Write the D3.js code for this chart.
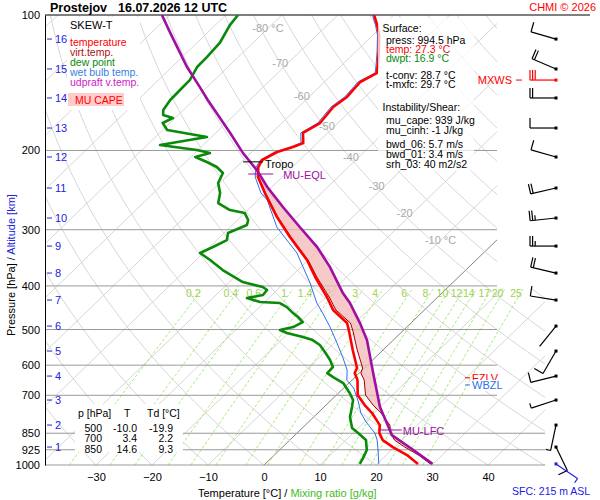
<!DOCTYPE html>
<html><head><meta charset="utf-8">
<script src="https://cdn.jsdelivr.net/npm/d3@7"></script>
<style>body{margin:0;background:#fff} text{font-family:"Liberation Sans",Arial,sans-serif}</style>
</head><body>
<svg id="c" width="600" height="500"></svg>
<script>
// ---------- data ----------
const stationName = "Prostejov";
const dateLabel = "16.07.2026 12 UTC";
const pressureTicks = [100,200,300,400,500,600,700,850,925,1000];
const upperPressLines = [200,300,400,500,600,700];
const lowerPressLines = [850,925,1000];
const tempTicks = [-30,-20,-10,0,10,20,30,40];
const altKm = [1,2,3,4,5,6,7,8,9,10,11,12,13,14,15,16];
const altPress = [912.3,815.2,717.2,634.4,558.2,491.2,430,374.5,326.2,282.6,242.4,206.8,178.3,152.9,131.8,113.1];
const isoLabelT = [-80,-70,-60,-50,-40,-30,-20,-10];
const isoLabelP = [106.9,127.8,151.4,176.5,206.8,239.9,275.5,316.3];
const mixRatios = [0.2,0.4,0.6,1,1.4,2,3,4,6,8,10,12,14,17,20,25];

// [pressure hPa, value °C]
const temperature = [[100,-63.5],[105.3,-61.1],[110.8,-58.9],[119.6,-56.2],[129.2,-53.6],[134.6,-52.3],[140.9,-53.6],[152.1,-53.2],[160.1,-53.8],[173.8,-53.2],[182.9,-54.4],[192.5,-52.5],[196.5,-53.6],[201.6,-55.5],[210,-56.7],[217.7,-56.1],[229.1,-54.3],[248.7,-50.1],[281.2,-43.5],[311.5,-37.5],[350.4,-30.2],[382.2,-25.6],[423.4,-19.8],[452.5,-16.3],[483.7,-11.4],[501.3,-9.8],[555.3,-5.4],[608.9,-1.3],[624.7,-0.8],[647.6,1.0],[699.1,3.8],[735.9,6.9],[766.6,9.7],[815.3,13.3],[849.3,14.7],[880.3,16.6],[912.3,19.7],[950.6,23.7],[994.5,27.3]];
const virtualTemp = [[100,-63.5],[105.3,-61.1],[110.8,-58.9],[119.6,-56.2],[129.2,-53.6],[134.6,-52.3],[140.9,-53.6],[152.1,-53.2],[160.1,-53.8],[173.8,-53.2],[182.9,-54.4],[192.5,-52.5],[196.5,-53.6],[201.6,-55.5],[210,-56.7],[217.7,-56.1],[229.1,-54.2],[248.7,-50.0],[281.2,-43.4],[311.5,-37.3],[350.4,-30.0],[382.2,-25.3],[423.4,-19.4],[452.5,-15.8],[483.7,-10.8],[501.3,-9.1],[555.3,-4.6],[608.9,-0.3],[624.7,0.3],[647.6,2.2],[699.1,5.2],[735.9,8.4],[766.6,11.3],[815.3,15.1],[849.3,16.7],[880.3,18.7],[912.3,21.8],[950.6,25.8],[994.5,29.5]];
const dewPoint = [[100,-87.8],[105.3,-87.4],[115.4,-85.9],[124.0,-85.6],[130.5,-85.5],[139.5,-84.4],[146.8,-84.3],[154.5,-84.2],[162.6,-83.6],[166.8,-82.7],[169.4,-80.4],[173.8,-81.3],[180.1,-79.2],[186.7,-70.8],[194.5,-77.7],[199.6,-70.2],[202.7,-67.3],[206.8,-69.2],[212.2,-66.2],[217.7,-63.5],[224.5,-61.3],[236.3,-60.3],[248.7,-58.1],[261.7,-56.6],[271.3,-53.2],[275.5,-50.0],[285.5,-48.1],[292.9,-47.4],[305.2,-49.3],[316.3,-48.2],[327.8,-49.4],[338.0,-50.6],[350.4,-47.5],[368.8,-43.4],[392.1,-37.6],[402.3,-33.1],[408.5,-31.8],[419.1,-31.6],[425.6,-33.9],[434.4,-30.8],[436.6,-27.1],[445.7,-25.1],[459.6,-22.9],[469.0,-21.3],[481.2,-19.5],[493.7,-20.3],[501.3,-22.1],[509.1,-20.3],[519.6,-16.7],[527.7,-14.4],[541.3,-12.2],[561.1,-10.0],[584.5,-7.6],[605.8,-5.8],[624.7,-5.7],[637.7,-3.9],[657.5,-1.0],[692.0,2.0],[717.2,3.9],[743.4,5.0],[782.5,6.5],[827.8,8.9],[849.3,10.9],[880.2,13.6],[926.4,15.6],[965.2,16.4],[994.5,16.9]];
const wetBulb = [[100,-63.8],[105.3,-61.4],[110.8,-59.2],[119.6,-56.5],[129.2,-53.9],[134.6,-52.6],[140.9,-54.0],[152.1,-53.6],[160.1,-54.2],[173.8,-53.6],[182.9,-54.8],[192.5,-52.9],[196.5,-54.0],[201.6,-55.9],[210,-57.0],[217.7,-56.5],[229.1,-54.8],[248.7,-50.8],[257.7,-48.4],[295.9,-41.7],[316.3,-37.5],[338.0,-33.3],[363.2,-29.6],[394.1,-25.4],[412.7,-23.2],[436.6,-20.5],[459.6,-17.6],[493.7,-13.7],[535.8,-9.5],[575.6,-5.9],[615.2,-2.7],[647.6,-0.9],[674.6,1.8],[721.0,5.0],[766.6,7.7],[802.7,10.3],[849.3,13.9],[880.2,15.6],[926.4,17.6],[994.5,20.3]];
const parcel = [[100,-101.4],[109.6,-96.6],[130.5,-87.3],[144.6,-81.3],[154.5,-77.5],[182.9,-67.4],[202.7,-61.4],[221.1,-55.8],[241.1,-50.8],[267.1,-44.3],[295.9,-37.6],[327.8,-30.8],[363.2,-24.8],[414.8,-17.7],[436.6,-14.6],[483.7,-9.1],[527.7,-4.7],[624.7,2.5],[743.4,10.0],[836.2,16.0],[858,17.3],[925,23.8],[994.5,29.9]];

// wind barbs at altitude levels (1..16 km)
const windDir = [154,192,252,256,210,219,279,283,270,264,257,286,270,270,293,286];
const windSpd = [10,5,5,10,10,2,10,20,25,25,20,10,10,20,20,10];
const mxwsP = 139.5, mxwsDir = 270, mxwsSpd = 30;
const sfcWindDir = 124, sfcWindSpd = 5;

const tropoP = 212, eqlP = 225.6, lfcP = 836, fzlvP = 640, wbzlP = 664;
const tableP = [500,700,850], tableT = [-10.0,3.4,14.6], tableTd = [-19.9,2.2,9.3];
const sfc = {press:994.5, temp:27.3, dwpt:16.9, tconv:28.7, tmxfc:29.7, cape:939, cinh:-1, bwd06:5.7, bwd01:3.4, srh03:40, elev:215};

// ---------- scales ----------
const svg = d3.select("#c");
const yS = d3.scaleLog().domain([100,1000]).range([15,465]);
const tS = d3.scaleLinear().domain([0,10]).range([264,320]);
const SK = 1.035;
const X = (T,p) => tS(T) + (465 - yS(p))*SK;
const F = '"Liberation Sans",Arial,sans-serif';

const defs = svg.append("defs");
const cg = defs.append("clipPath").attr("id","gridclip");
cg.append("rect").attr("x",45).attr("y",15).attr("width",452).attr("height",450);
cg.append("rect").attr("x",497).attr("y",288).attr("width",48).attr("height",177);
defs.append("clipPath").attr("id","plotclip").append("rect").attr("x",45).attr("y",15).attr("width",452).attr("height",450);

// ---------- grid ----------
const grid = svg.append("g").attr("clip-path","url(#gridclip)");
const isoT = d3.range(-170,60,10);
grid.selectAll(".iso").data(isoT).join("line")
  .attr("x1",T=>X(T,1000)).attr("y1",yS(1000)).attr("x2",T=>X(T,100)).attr("y2",yS(100))
  .attr("stroke",T=>T===0?"#666":"#d6d6d6").attr("stroke-width",T=>T===0?0.8:1);

const pLevels = d3.range(Math.log(1000), Math.log(99), -0.02).map(Math.exp);
const adiab = d3.range(-40,210,10);
const lineP = d3.line().x(d=>d[0]).y(d=>d[1]);
grid.selectAll(".ad").data(adiab).join("path")
  .attr("d",th=>lineP(pLevels.map(p=>{const T=(th+273.15)*Math.pow(p/1000,0.2857)-273.15; return [X(T,p),yS(p)];})))
  .attr("fill","none").attr("stroke","#d6d6d6").attr("stroke-width",1);

const tdFromW = (w,p)=>{const e=w*p/(622+w); const l=Math.log(e/6.112); return 243.5*l/(17.67-l);};
const mrP = d3.range(Math.log(1000), Math.log(400)-0.001, -0.02).map(Math.exp);
grid.selectAll(".mr").data(mixRatios).join("path")
  .attr("d",w=>lineP(mrP.map(p=>[X(tdFromW(w,p),p),yS(p)])))
  .attr("fill","none").attr("stroke","#9be86a").attr("stroke-width",0.9).attr("stroke-dasharray","3,2");
svg.selectAll(".mrl").data(mixRatios).join("text")
  .attr("x",w=>X(tdFromW(w,432),432)).attr("y",293).attr("dy","0.35em")
  .attr("text-anchor","middle").attr("font-size",10.5).attr("fill","#a0d050").text(w=>w);

// pressure lines
svg.selectAll(".pl").data(upperPressLines).join("line")
  .attr("x1",45).attr("x2",497).attr("y1",p=>yS(p)).attr("y2",p=>yS(p)).attr("stroke","#999");
svg.selectAll(".pl2").data(lowerPressLines).join("line")
  .attr("x1",45).attr("x2",545).attr("y1",p=>yS(p)).attr("y2",p=>yS(p)).attr("stroke","#999");
svg.append("line").attr("x1",45).attr("x2",590).attr("y1",yS(100)).attr("y2",yS(100)).attr("stroke","#000");

// isotherm labels
isoLabelT.forEach((T,i)=>{
  const p=isoLabelP[i], x=X(T,p), y=yS(p);
  svg.append("text").attr("x",x).attr("y",y).attr("dy","0.35em").attr("text-anchor","end")
    .attr("font-size",11).attr("fill","#a8a8a8").text(T);
  if(T===-80||T===-10) svg.append("text").attr("x",x+3).attr("y",y).attr("dy","0.35em")
    .attr("font-size",11).attr("fill","#a8a8a8").text("°C");
});

// ---------- CAPE fill ----------
function interp(arr,p){
  for(let i=0;i<arr.length-1;i++){
    const a=arr[i],b=arr[i+1];
    if(p>=a[0]&&p<=b[0]){const t=(Math.log(p)-Math.log(a[0]))/(Math.log(b[0])-Math.log(a[0])); return a[1]+t*(b[1]-a[1]);}
  }
  return arr[arr.length-1][1];
}
const capeLev = d3.range(Math.log(sfc.press), Math.log(eqlP), -0.002).map(Math.exp);
const plot = svg.append("g").attr("clip-path","url(#plotclip)");
plot.append("path").datum(capeLev)
  .attr("d",d3.area().y(p=>yS(p)).x0(p=>X(interp(virtualTemp,p),p)).x1(p=>X(Math.max(interp(virtualTemp,p),interp(parcel,p)),p)))
  .attr("fill","#f4b8b8").attr("fill-opacity",0.75);

// ---------- profiles ----------
const prof = d3.line().x(d=>X(d[1],d[0])).y(d=>yS(d[0]));
plot.append("path").datum(wetBulb).attr("d",prof).attr("fill","none").attr("stroke","#2f6fef").attr("stroke-width",1);
plot.append("path").datum(dewPoint).attr("d",prof).attr("fill","none").attr("stroke","#0a8a0a").attr("stroke-width",2.6).attr("stroke-linejoin","round");
plot.append("path").datum(virtualTemp).attr("d",prof).attr("fill","none").attr("stroke","#a00000").attr("stroke-width",1);
plot.append("path").datum(temperature).attr("d",prof).attr("fill","none").attr("stroke","#ff0000").attr("stroke-width",2.6).attr("stroke-linejoin","round");
plot.append("path").datum(parcel).attr("d",prof).attr("fill","none").attr("stroke","#a010a0").attr("stroke-width",2.6);

// level markers
const ty=yS(tropoP), tx=X(interp(temperature,tropoP),tropoP);
svg.append("line").attr("x1",tx-18).attr("x2",tx+2).attr("y1",ty).attr("y2",ty).attr("stroke","#000");
svg.append("text").attr("x",tx+4).attr("y",ty+2).attr("dy","0.35em").attr("font-size",11).text("Tropo");
const ey=yS(eqlP), ex=X(interp(parcel,eqlP),eqlP);
svg.append("line").attr("x1",ex-11).attr("x2",ex+14).attr("y1",ey).attr("y2",ey).attr("stroke","#a010a0");
svg.append("text").attr("x",ex+24).attr("y",ey+1).attr("dy","0.35em").attr("font-size",11).attr("fill","#a010a0").text("MU-EQL");
const ly=yS(lfcP), lx=X(interp(parcel,lfcP),lfcP);
svg.append("line").attr("x1",lx-10).attr("x2",lx+12).attr("y1",ly).attr("y2",ly).attr("stroke","#a010a0");
svg.append("text").attr("x",lx+13).attr("y",ly+1).attr("dy","0.35em").attr("font-size",11).attr("fill","#a010a0").text("MU-LFC");
const fy=yS(fzlvP), wy=yS(wbzlP);
svg.append("line").attr("x1",465).attr("x2",470).attr("y1",fy).attr("y2",fy).attr("stroke","#f00");
svg.append("text").attr("x",472).attr("y",fy).attr("dy","0.35em").attr("font-size",11).attr("fill","#f00").text("FZLV");
svg.append("rect").attr("x",470).attr("y",wy-5).attr("width",37).attr("height",11).attr("fill","#fff");
svg.append("line").attr("x1",465).attr("x2",470).attr("y1",wy).attr("y2",wy).attr("stroke","#2f6fef");
svg.append("text").attr("x",472).attr("y",wy).attr("dy","0.35em").attr("font-size",11).attr("fill","#2f6fef").text("WBZL");

// ---------- axes ----------
const ax = svg.append("g").attr("transform","translate(45,0)")
  .call(d3.axisLeft(yS).tickValues(pressureTicks).tickFormat(d3.format("d")).tickSize(0).tickSizeOuter(0).tickPadding(5));
ax.selectAll("text").attr("font-size",11).attr("font-family",F).attr("fill","#000");
ax.select(".domain").attr("stroke","#000");
const bx = svg.append("g").attr("transform","translate(0,465)")
  .call(d3.axisBottom(tS).tickValues(tempTicks).tickSize(0).tickPadding(8));
bx.select(".domain").remove();
bx.selectAll("text").attr("font-size",11).attr("font-family",F).attr("fill","#000");

// altitude ticks
altKm.forEach((k,i)=>{
  const y=yS(altPress[i]);
  svg.append("line").attr("x1",47).attr("x2",52).attr("y1",y).attr("y2",y).attr("stroke","#2222dd");
  svg.append("text").attr("x",55).attr("y",y).attr("dy","0.35em").attr("font-size",11).attr("fill","#2222dd").text(k);
});

// axis titles
const xt = svg.append("text").attr("x",198).attr("y",493).attr("dy","0.35em").attr("font-size",11);
xt.append("tspan").attr("fill","#000").text("Temperature [°C]  /  ");
xt.append("tspan").attr("fill","#44bb22").text("Mixing ratio [g/kg]");
const yt = svg.append("text").attr("transform","translate(11,336) rotate(-90)").attr("dy","0.35em").attr("font-size",11);
yt.append("tspan").attr("fill","#000").text("Pressure [hPa]  /  ");
yt.append("tspan").attr("fill","#2222dd").text("Altitude [km]");

// title
svg.append("text").attr("x",50).attr("y",8).attr("dy","0.35em").attr("font-size",12.5).attr("font-weight","bold").text(stationName);
svg.append("text").attr("x",118).attr("y",8).attr("dy","0.35em").attr("font-size",12.5).attr("font-weight","bold").text(dateLabel);
svg.append("text").attr("x",596).attr("y",7).attr("dy","0.35em").attr("text-anchor","end").attr("font-size",11).attr("fill","#f00").text("CHMI © 2026");

// ---------- wind barbs ----------
function barb(cx,cy,dir,spd,color){
  const g=svg.append("g").attr("stroke",color).attr("stroke-width",1.2).attr("fill","none");
  const r=dir*Math.PI/180, ux=Math.sin(r), uy=-Math.cos(r), px=Math.cos(r), py=Math.sin(r), L=26;
  const exx=cx+ux*L, eyy=cy+uy*L;
  g.append("line").attr("x1",cx).attr("y1",cy).attr("x2",exx).attr("y2",eyy);
  svg.append("rect").attr("x",cx-1.5).attr("y",cy-1.5).attr("width",3).attr("height",3).attr("fill",color);
  let s=Math.round(spd/5)*5, pos=0;
  while(s>=10){const bx0=exx-ux*pos, by0=eyy-uy*pos;
    g.append("line").attr("x1",bx0).attr("y1",by0).attr("x2",bx0+px*10).attr("y2",by0+py*10); pos+=2.6; s-=10;}
  if(s>=5){const bx0=exx-ux*pos, by0=eyy-uy*pos;
    g.append("line").attr("x1",bx0).attr("y1",by0).attr("x2",bx0+px*5).attr("y2",by0+py*5);}
}
altPress.forEach((p,i)=>barb(556,yS(p),windDir[i],windSpd[i],"#000"));
barb(556,yS(mxwsP),mxwsDir,mxwsSpd,"#f00");
svg.append("text").attr("x",512).attr("y",yS(mxwsP)).attr("dy","0.35em").attr("text-anchor","end").attr("font-size",11).attr("fill","#f00").text("MXWS");
svg.append("line").attr("x1",516).attr("x2",522).attr("y1",yS(mxwsP)).attr("y2",yS(mxwsP)).attr("stroke","#f00");
barb(556,yS(sfc.press),sfcWindDir,sfcWindSpd,"#2222dd");
svg.append("text").attr("x",512).attr("y",491).attr("dy","0.35em").attr("font-size",10.5).attr("fill","#2222dd").text(`SFC: ${sfc.elev} m ASL`);

// ---------- legend ----------
svg.append("rect").attr("x",67).attr("y",17).attr("width",73).attr("height",93).attr("fill","#fff");
const leg=[["SKEW-T","#000",25,11],["temperature","#f00",42,10.5],["virt.temp.","#aa1111",52,10.5],["dew point","#0a8a0a",62,10.5],["wet bulb temp.","#3a7fe0",72,10.5],["udpraft v.temp.","#cc22cc",82,10.5]];
leg.forEach(l=>svg.append("text").attr("x",70).attr("y",l[2]).attr("dy","0.35em").attr("font-size",l[3]).attr("fill",l[1]).text(l[0]));
svg.append("rect").attr("x",68).attr("y",93).attr("width",56).attr("height",13).attr("fill","#ffcccc");
svg.append("text").attr("x",75).attr("y",100).attr("dy","0.35em").attr("font-size",10.5).attr("fill","#f00").text("MU CAPE");

// ---------- info box ----------
svg.append("rect").attr("x",378).attr("y",18).attr("width",96).attr("height",153).attr("fill","#fff").attr("fill-opacity",0.72);
const info=[
 ["Surface:",382.5,28.3,"#000"],
 [`press: ${sfc.press} hPa`,386,40,"#000"],
 [`temp: ${sfc.temp} °C`,386,49.3,"#f00"],
 [`dwpt: ${sfc.dwpt} °C`,386,58.5,"#0a8a0a"],
 [`t-conv: ${sfc.tconv} °C`,386,75,"#000"],
 [`t-mxfc: ${sfc.tmxfc} °C`,386,84.3,"#000"],
 ["Instability/Shear:",382.5,107.3,"#000"],
 [`mu_cape: ${sfc.cape} J/kg`,386,120.7,"#000"],
 [`mu_cinh: ${sfc.cinh} J/kg`,386,130.3,"#000"],
 [`bwd_06: ${sfc.bwd06} m/s`,386,144.3,"#000"],
 [`bwd_01: ${sfc.bwd01} m/s`,386,154,"#000"],
 [`srh_03: ${sfc.srh03} m2/s2`,386,164,"#000"]];
info.forEach(l=>svg.append("text").attr("x",l[1]).attr("y",l[2]).attr("dy","0.35em").attr("font-size",10.5).attr("fill",l[3]).text(l[0]));

// ---------- table ----------
svg.append("rect").attr("x",75).attr("y",404).attr("width",108).attr("height",48).attr("fill","#fff");
svg.append("text").attr("x",78).attr("y",413.3).attr("dy","0.35em").attr("font-size",10.5).text("p [hPa]");
svg.append("text").attr("x",124).attr("y",413.3).attr("dy","0.35em").attr("font-size",10.5).text("T");
svg.append("text").attr("x",147).attr("y",413.3).attr("dy","0.35em").attr("font-size",10.5).text("Td [°C]");
tableP.forEach((p,i)=>{
  const y=428.3+i*10.3;
  svg.append("text").attr("x",102).attr("y",y).attr("dy","0.35em").attr("text-anchor","end").attr("font-size",10.5).text(p);
  svg.append("text").attr("x",137).attr("y",y).attr("dy","0.35em").attr("text-anchor","end").attr("font-size",10.5).text(tableT[i].toFixed(1));
  svg.append("text").attr("x",173).attr("y",y).attr("dy","0.35em").attr("text-anchor","end").attr("font-size",10.5).text(tableTd[i].toFixed(1));
});
</script>
</body></html>
